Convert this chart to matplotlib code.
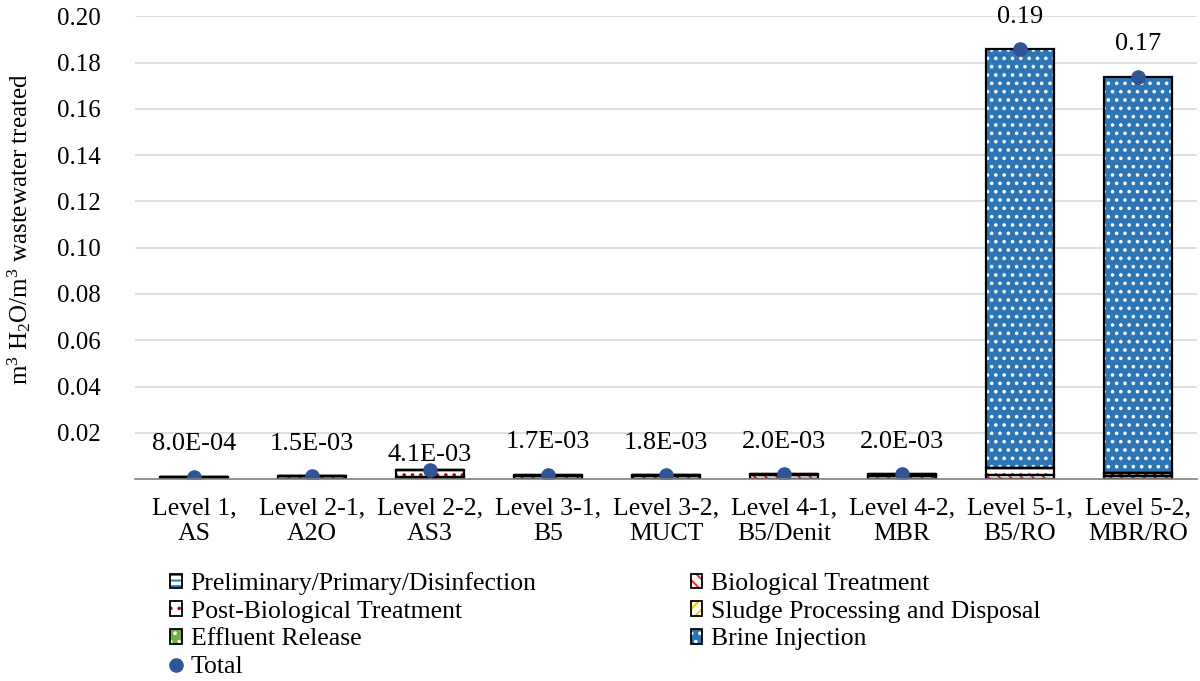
import matplotlib.pyplot as plt
import matplotlib.patches as mpatches
from matplotlib.lines import Line2D
from matplotlib.legend_handler import HandlerTuple
import numpy as np

plt.rcParams['font.family'] = ['Liberation Serif', 'DejaVu Serif']
plt.rcParams['mathtext.fontset'] = 'custom'
plt.rcParams['mathtext.rm'] = 'Liberation Serif'
plt.rcParams['hatch.linewidth'] = 1.4

# categories
levels = ['Level 1,\nAS', 'Level 2-1,\nA2O', 'Level 2-2,\nAS3', 'Level 3-1,\nB5',
          'Level 3-2,\nMUCT', 'Level 4-1,\nB5/Denit', 'Level 4-2,\nMBR',
          'Level 5-1,\nB5/RO', 'Level 5-2,\nMBR/RO']

# stacked components (m3 H2O / m3 wastewater treated)
preliminary = [0.0001, 0.0001, 0.0001, 0.0001, 0.0001, 0.0001, 0.0001, 0.0001, 0.0001]
biological = [0.0006, 0.0012, 0.0008, 0.0013, 0.0014, 0.0015, 0.0014, 0.0015, 0.0014]
post_bio = [0.0000, 0.0000, 0.0030, 0.0001, 0.0001, 0.0002, 0.0003, 0.0030, 0.0010]
sludge = [0.0001, 0.0002, 0.0002, 0.0002, 0.0002, 0.0002, 0.0002, 0.0002, 0.0002]
effluent = [0, 0, 0, 0, 0, 0, 0, 0, 0]
brine = [0, 0, 0, 0, 0, 0, 0, 0.1812, 0.1713]

total = [0.0008, 0.0015, 0.0041, 0.0017, 0.0018, 0.0020, 0.0020, 0.186, 0.174]
total_labels = ['8.0E-04', '1.5E-03', '4.1E-03', '1.7E-03', '1.8E-03', '2.0E-03',
                '2.0E-03', '0.19', '0.17']

series = [
    ('Preliminary/Primary/Disinfection', preliminary, 'white', '#2E75B6', '---'),
    ('Biological Treatment', biological, 'white', '#FF2020', '\\\\\\'),
    ('Post-Biological Treatment', post_bio, 'white', '#C00000', '..'),
    ('Sludge Processing and Disposal', sludge, 'white', '#FFC000', '///'),
    ('Effluent Release', effluent, '#70AD47', 'white', '..'),
    ('Brine Injection', brine, '#2E75B6', 'white', '..'),
]

fig = plt.figure(figsize=(12, 6.81), dpi=100)
ax = fig.add_axes([0.1125, 0.2965, 0.885, 0.6795])

x = np.arange(len(levels))
width = 0.57
bottom = np.zeros(len(levels))
handles = {}
for name, vals, fc, hc, hatch in series:
    vals = np.array(vals)
    ax.bar(x, vals, width, bottom=bottom, color=fc, edgecolor=hc, hatch=hatch,
           linewidth=0, zorder=2)
    ax.bar(x, vals, width, bottom=bottom, fill=False, edgecolor='black',
           linewidth=1.6, zorder=3)
    h1 = mpatches.Patch(facecolor=fc, edgecolor=hc, hatch=hatch, linewidth=0)
    h2 = mpatches.Patch(fill=False, edgecolor='black', linewidth=1.3)
    handles[name] = (h1, h2)
    bottom += vals

ax.plot(x, total, 'o', color='#2F5597', markersize=9.5, zorder=4)
handles['Total'] = Line2D([], [], marker='o', linestyle='none', color='#2F5597',
                          markersize=9.5)

# data labels (offset in pixels above the total marker)
label_offsets = [33, 32, 15, 33, 32, 32, 32, 32, 33]
for xi, t, lab, off in zip(x, total, total_labels, label_offsets):
    ax.annotate(lab, (xi, t), xytext=(0, off), textcoords='offset pixels',
                ha='center', va='center', fontsize=19)

ax.set_xlim(-0.5, len(levels) - 0.5)
ax.set_ylim(0, 0.20)
yt = np.arange(0.02, 0.201, 0.02)
ax.set_yticks(yt)
ax.set_yticklabels([f'{v:.2f}' for v in yt])
ax.set_xticks(x)
ax.set_xticklabels(levels, fontsize=18.5, linespacing=1.25)
ax.tick_params(axis='both', length=0)
ax.tick_params(axis='y', labelsize=18, pad=25)
ax.tick_params(axis='x', pad=13)
ax.grid(axis='y', color='#D9D9D9', linewidth=1.2, zorder=0)
ax.set_axisbelow(True)
for s in ['left', 'right', 'top']:
    ax.spines[s].set_visible(False)
ax.spines['bottom'].set_color('#7F7F7F')
ax.spines['bottom'].set_linewidth(1.2)
ax.spines['bottom'].set_zorder(5)

ax.set_ylabel(r'm$\mathregular{^3}$ H$\mathregular{_2}$O/m$\mathregular{^3}$ wastewater treated',
              fontsize=18)
ax.yaxis.set_label_coords(-0.096, 0.54)

order = ['Preliminary/Primary/Disinfection', 'Post-Biological Treatment',
         'Effluent Release', 'Total', 'Biological Treatment',
         'Sludge Processing and Disposal', 'Brine Injection']
leg = fig.legend([handles[n] for n in order], order, ncol=2, fontsize=18.5,
                 loc='upper left', bbox_to_anchor=(0.1417, 0.160), frameon=False,
                 handlelength=0.45, handleheight=0.5, handletextpad=0.35,
                 labelspacing=0.22, columnspacing=6.0, borderpad=0,
                 borderaxespad=0,
                 handler_map={tuple: HandlerTuple(ndivide=1, pad=0)})

fig.savefig('out.png', dpi=100)
